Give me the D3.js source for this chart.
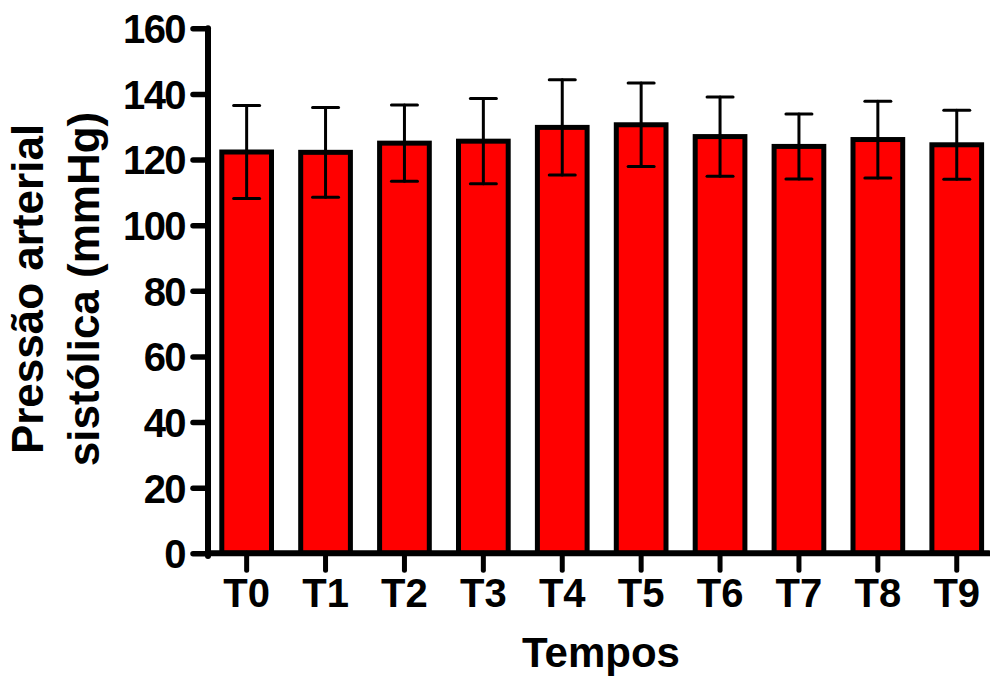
<!DOCTYPE html>
<html><head><meta charset="utf-8">
<script src="https://cdn.jsdelivr.net/npm/d3@7"></script>
<style>body{margin:0;background:#fff}svg{display:block}text{font-family:"Liberation Sans",Arial,sans-serif;font-weight:bold;fill:#000}</style>
</head><body>
<script>
const categories = ["T0","T1","T2","T3","T4","T5","T6","T7","T8","T9"];
const means = [122.3,122.2,125.0,125.6,129.8,130.6,127.0,124.0,126.1,124.5];
const sds = [14.2,13.7,11.6,13.0,14.5,12.7,12.1,9.9,11.7,10.5];
const yTicks = [0,20,40,60,80,100,120,140,160];
const yTitle = ["Pressão arterial","sistólica (mmHg)"];
const xTitle = "Tempos";

const W=990,H=677;
const svg=d3.select("body").append("svg").attr("width",W).attr("height",H);
const x=d3.scaleBand().domain(categories).range([207.2,996.2]).paddingInner(0.37).paddingOuter(0.185);
const y=d3.scaleLinear().domain([0,160]).range([553.3,28.3]);

// bars
svg.selectAll("rect.bar").data(categories).join("rect")
  .attr("x",d=>x(d)).attr("width",x.bandwidth())
  .attr("y",(d,i)=>y(means[i])).attr("height",(d,i)=>y(0)-y(means[i]))
  .attr("fill","#ff0000").attr("stroke","#000").attr("stroke-width",5);

// error bars
const cx=d=>x(d)+x.bandwidth()/2;
const eb=svg.append("g").attr("stroke","#000").attr("stroke-width",3).attr("stroke-linecap","round");
categories.forEach((c,i)=>{
  const hi=y(means[i]+sds[i]), lo=y(means[i]-sds[i]);
  eb.append("line").attr("x1",cx(c)).attr("x2",cx(c)).attr("y1",hi).attr("y2",lo);
  eb.append("line").attr("x1",cx(c)-13).attr("x2",cx(c)+13).attr("y1",hi).attr("y2",hi);
  eb.append("line").attr("x1",cx(c)-13).attr("x2",cx(c)+13).attr("y1",lo).attr("y2",lo);
});

// y axis
const ya=svg.append("g").attr("transform","translate(208,0)")
  .call(d3.axisLeft(y).tickValues(yTicks).tickSize(15).tickPadding(8));
ya.select(".domain").remove();
ya.selectAll(".tick line").attr("stroke","#000").attr("stroke-width",5.5).attr("stroke-linecap","round");
ya.selectAll(".tick text").style("font-size","40px").style("letter-spacing","-1.6px").attr("dy","0.36em");
svg.append("line").attr("x1",208).attr("x2",208).attr("y1",y(160)).attr("y2",y(0)+2.7)
  .attr("stroke","#000").attr("stroke-width",6).attr("stroke-linecap","round");

// x axis
const xa=svg.append("g").attr("transform",`translate(0,${y(0)})`)
  .call(d3.axisBottom(x).tickSize(17).tickPadding(10));
xa.select(".domain").remove();
xa.selectAll(".tick line").attr("stroke","#000").attr("stroke-width",5).attr("stroke-linecap","round");
xa.selectAll(".tick text").style("font-size","40px").attr("y",53.7).attr("dy","0");
svg.append("line").attr("x1",208).attr("x2",989).attr("y1",y(0)).attr("y2",y(0))
  .attr("stroke","#000").attr("stroke-width",6).attr("stroke-linecap","round");

// titles
svg.append("text").attr("x",601).attr("y",667).attr("text-anchor","middle").style("font-size","42px").text(xTitle);
const yt=svg.append("text").attr("transform","translate(0,289) rotate(-90)").attr("text-anchor","middle").style("font-size","44px");
yt.append("tspan").attr("x",0).attr("y",43).text(yTitle[0]);
yt.append("tspan").attr("x",0).attr("y",99).text(yTitle[1]);
</script>
</body></html>
